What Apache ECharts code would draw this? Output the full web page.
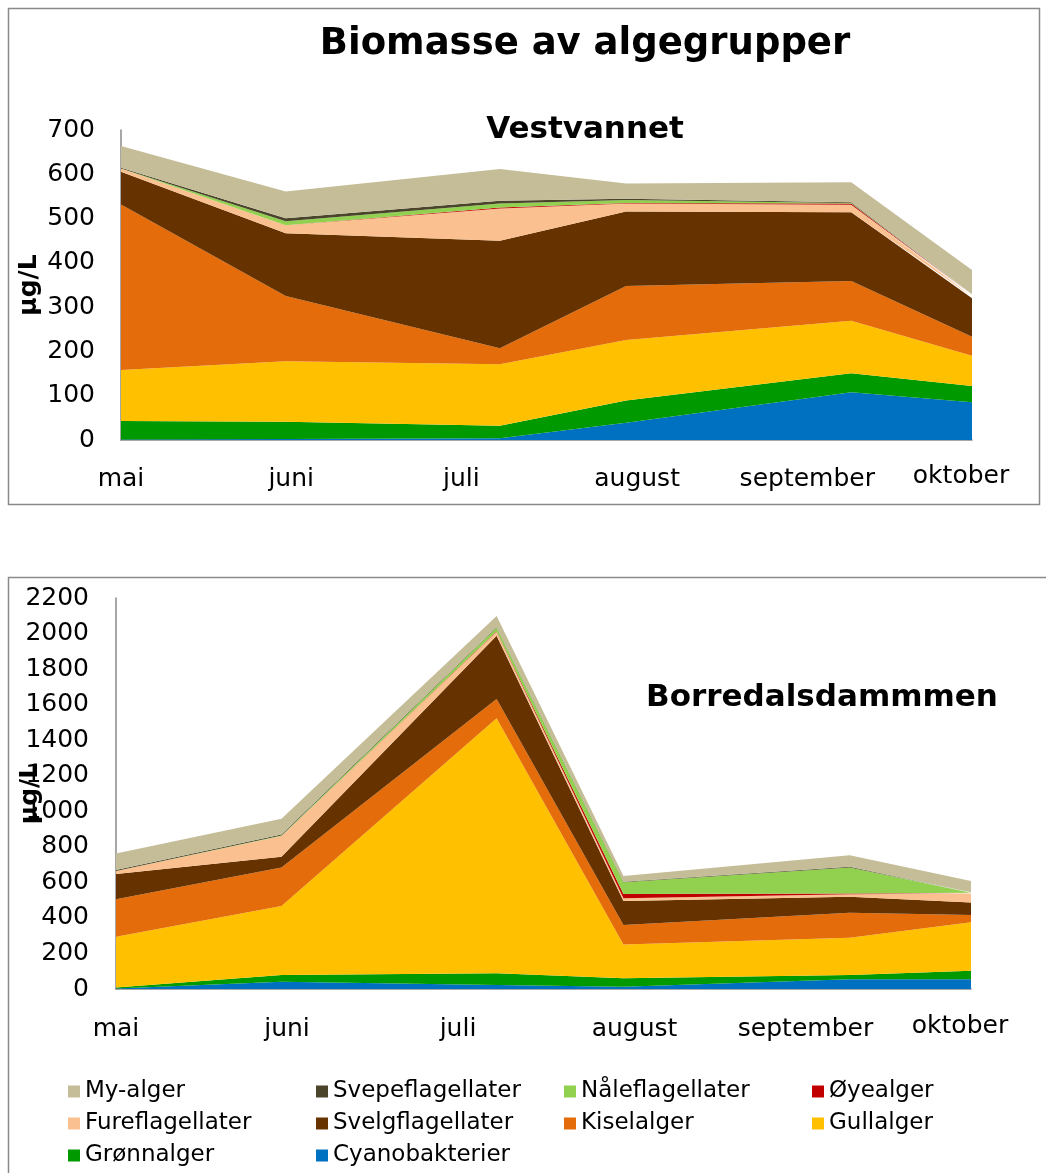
<!DOCTYPE html>
<html>
<head>
<meta charset="utf-8">
<script src="https://cdn.jsdelivr.net/npm/echarts@6/dist/echarts.min.js"></script>
<style>
html,body{margin:0;padding:0;background:#fff;}
#chart{width:1046px;height:1173px;}
</style>
</head>
<body>
<div id="chart"></div>
<script>
// ---- data ----
const sampleDays = [0, 30, 69, 92, 133, 155];          // days after first sample (30 April)
const monthLabels = ['mai', 'juni', 'juli', 'august', 'september', 'oktober'];
const labelDays = [0, 31, 62, 94, 125, 153];

// series names, top-down (legend order)
const groupNames = ['My-alger', 'Svepeflagellater', 'Nåleflagellater', 'Øyealger', 'Fureflagellater',
  'Svelgflagellater', 'Kiselalger', 'Gullalger', 'Grønnalger', 'Cyanobakterier'];
const groupColors = ['#C4BD97', '#4A452A', '#92D050', '#C00000', '#FAC090',
  '#663300', '#E46C0A', '#FFC000', '#009900', '#0070C0'];

// Vestvannet (µg/L)
const vMy    = [49, 60, 72, 34, 45, 55];
const vSvepe = [2, 7, 6, 3, 2, 1];
const vNale  = [0, 9, 9, 7, 1, 0];
const vOye   = [0, 0, 2, 1, 3, 4];
const vFure  = [7, 18, 73, 18, 17, 4];
const vSvelg = [74, 142, 243, 168, 155, 87];
const vKisel = [374, 147, 36, 122, 90, 43];
const vGull  = [115, 137, 139, 137, 118, 68];
const vGronn = [42, 39, 28, 50, 43, 37];
const vCyano = [1, 2, 4, 39, 108, 85];

// Borredalsdammmen (µg/L)
const bMy    = [93, 88, 63, 33, 65, 62];
const bSvepe = [5, 7, 3, 3, 5, 3];
const bNale  = [0, 2, 20, 66, 145, 4];
const bOye   = [0, 0, 3, 24, 5, 0];
const bFure  = [17, 117, 22, 15, 14, 52];
const bSvelg = [142, 61, 356, 135, 90, 70];
const bKisel = [211, 216, 109, 109, 140, 41];
const bGull  = [286, 388, 1435, 191, 210, 272];
const bGronn = [5, 38, 66, 47, 24, 48];
const bCyano = [3, 41, 22, 13, 55, 55];

const vestTicks = [0, 100, 200, 300, 400, 500, 600, 700];
const borrTicks = [0, 200, 400, 600, 800, 1000, 1200, 1400, 1600, 1800, 2000, 2200];

const vestValues = [vMy, vSvepe, vNale, vOye, vFure, vSvelg, vKisel, vGull, vGronn, vCyano];
const borrValues = [bMy, bSvepe, bNale, bOye, bFure, bSvelg, bKisel, bGull, bGronn, bCyano];

// ---- chart ----
const FONT = 'DejaVu Sans';
const AXIS_COLOR = '#8a8a8a';

function buildSeries(values, axisIndex, stackName) {
  const out = [];
  // bottom-most first so stacking goes upward
  for (let i = groupNames.length - 1; i >= 0; i--) {
    out.push({
      name: groupNames[i],
      type: 'line',
      xAxisIndex: axisIndex,
      yAxisIndex: axisIndex,
      stack: stackName,
      symbol: 'none',
      lineStyle: { width: 0 },
      areaStyle: { color: groupColors[i], opacity: 1 },
      itemStyle: { color: groupColors[i] },
      // value first, day second: the value dimension is the one that gets stacked
      dimensions: ['value', 'day'],
      encode: { x: 1, y: 0 },
      data: sampleDays.map((d, k) => [values[i][k], d])
    });
  }
  return out;
}

function xAxisCfg(gridIndex, margin) {
  return {
    type: 'value', gridIndex: gridIndex,
    min: sampleDays[0], max: sampleDays[sampleDays.length - 1],
    axisLine: { show: true, lineStyle: { color: AXIS_COLOR, width: 1.5 } },
    axisTick: { show: false },
    splitLine: { show: false },
    axisLabel: {
      customValues: labelDays,
      formatter: function (v) {
        const idx = labelDays.indexOf(v);
        if (idx < 0) return '';
        return idx === monthLabels.length - 1 ? '{o|' + monthLabels[idx] + '}' : monthLabels[idx];
      },
      rich: { o: { fontFamily: FONT, fontSize: 25, color: '#000', padding: [0, 0, 0, 0], lineHeight: 19 } },
      fontFamily: FONT, fontSize: 25, color: '#000', margin: margin
    }
  };
}

function yAxisCfg(gridIndex, ticks, nameGap, labelMargin) {
  return {
    type: 'value', gridIndex: gridIndex,
    min: ticks[0], max: ticks[ticks.length - 1], interval: ticks[1] - ticks[0],
    name: 'µg/L', nameLocation: 'middle', nameGap: nameGap, nameMoveOverlap: false,
    nameTextStyle: { fontFamily: FONT, fontSize: 25, fontWeight: 'bold', color: '#000' },
    axisLine: { show: true, lineStyle: { color: AXIS_COLOR, width: 1.5 } },
    axisTick: { show: false },
    splitLine: { show: false },
    axisLabel: { fontFamily: FONT, fontSize: 25, color: '#000', margin: labelMargin,
      formatter: v => String(v) }
  };
}

const chart = echarts.init(document.getElementById('chart'), null, { renderer: 'canvas' });
chart.setOption({
  backgroundColor: '#fff',
  animation: false,
  title: [
    { text: 'Biomasse av algegrupper', left: 585, top: 26, textAlign: 'center', padding: 0,
      textStyle: { fontFamily: FONT, fontSize: 37, fontWeight: 'bold', color: '#000' } },
    { text: 'Vestvannet', left: 585, top: 114, textAlign: 'center', padding: 0,
      textStyle: { fontFamily: FONT, fontSize: 31, fontWeight: 'bold', color: '#000' } },
    { text: 'Borredalsdammmen', left: 822, top: 682, textAlign: 'center', padding: 0,
      textStyle: { fontFamily: FONT, fontSize: 31, fontWeight: 'bold', color: '#000' } }
  ],
  graphic: [
    { type: 'rect', shape: { x: 8.5, y: 8.5, width: 1031, height: 496 },
      style: { fill: 'none', stroke: AXIS_COLOR, lineWidth: 1.5 }, z: -1 },
    { type: 'rect', shape: { x: 8.5, y: 577.5, width: 1050, height: 610 },
      style: { fill: 'none', stroke: AXIS_COLOR, lineWidth: 1.5 }, z: -1 }
  ],
  legend: {
    data: groupNames,
    left: 63, top: 1075, width: 1000,
    orient: 'horizontal',
    icon: 'rect', itemWidth: 12, itemHeight: 12, itemGap: 9,
    formatter: '{a|{name}}',
    textStyle: {
      fontFamily: FONT, fontSize: 23, color: '#000',
      rich: { a: { fontFamily: FONT, fontSize: 23, width: 222, lineHeight: 23, color: '#000' } }
    },
    selectedMode: false
  },
  grid: [
    { left: 121, right: 74, top: 130, bottom: 733, outerBoundsMode: 'none', containLabel: false },
    { left: 116, right: 75, top: 598, bottom: 184, outerBoundsMode: 'none', containLabel: false }
  ],
  xAxis: [xAxisCfg(0, 27), xAxisCfg(1, 28)],
  yAxis: [yAxisCfg(0, vestTicks, 79, 26), yAxisCfg(1, borrTicks, 73, 27)],
  series: buildSeries(vestValues, 0, 'vest').concat(buildSeries(borrValues, 1, 'borr'))
});
</script>
</body>
</html>
